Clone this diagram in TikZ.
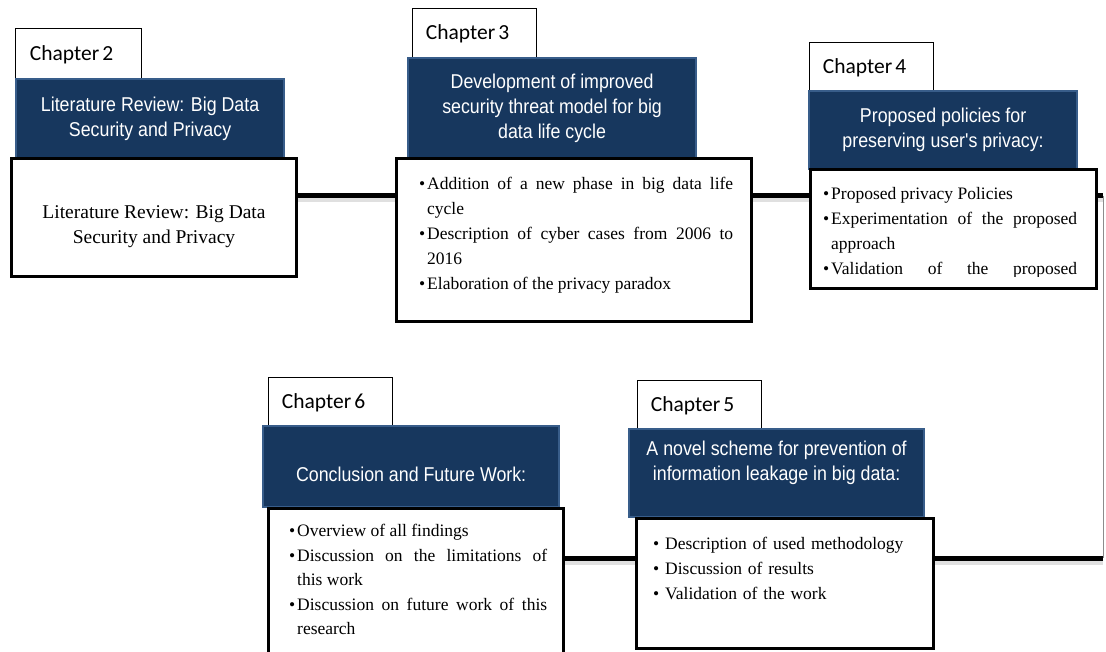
\documentclass[tikz,border=0pt]{standalone}
\usepackage{fontspec}
\setmainfont{Liberation Serif}
\newfontfamily\tabfont{Carlito}
\newfontfamily\titlefont[FakeStretch=0.89]{Liberation Sans}
\definecolor{navy}{HTML}{17375E}
\definecolor{navyedge}{HTML}{385D8A}
\newcommand\bul[2][8pt]{\hangindent=#1\hangafter=1\noindent\makebox[#1][l]{\textbullet}#2\par}

\begin{document}
\begin{tikzpicture}[x=1pt, y=-1pt,
    tab/.style={draw=black, line width=0.8pt, fill=white, anchor=north west, inner sep=0pt,
        minimum width=124pt, minimum height=50pt, text width=97pt, align=left,
        font=\tabfont\fontsize{21.5}{24}\selectfont},
    title/.style={draw=navyedge, line width=2.2pt, fill=navy, text=white, anchor=north west,
        inner sep=0pt, align=center, font=\titlefont\fontsize{20}{25}\selectfont},
    body/.style={draw=black, line width=3pt, fill=white, anchor=north west, inner sep=0pt},
    list/.style={anchor=north west, inner sep=0pt, align=justify,
        font=\fontsize{17.5}{25}\selectfont},
    link/.style={line width=5pt, preaction={draw=black!12, line width=5pt, transform canvas={yshift=-4pt}}}]
    \clip (0,0) rectangle (1106,652);

    % tabs
    \node[tab, minimum width=126pt, minimum height=52pt] (tab2) at (15,28) {Chapter\hspace{3pt}2};
    \node[tab] (tab3) at (412,8) {Chapter\hspace{3pt}3};
    \node[tab] (tab4) at (809,42) {Chapter\hspace{3pt}4};
    \node[tab] (tab6) at (268,377) {Chapter\hspace{3pt}6};
    \node[tab] (tab5) at (637,380) {Chapter\hspace{3pt}5};

    % titles
    \node[title, minimum width=268pt, minimum height=80pt] (head2) at (15,78)
        {Literature Review: Big Data\\Security and Privacy};
    \node[title, minimum width=288pt, minimum height=101pt] (head3) at (407,57)
        {Development of improved\\security threat model for big\\data life cycle};
    \node[title, minimum width=268pt, minimum height=78pt] (head4) at (808,90)
        {Proposed policies for\\preserving user's privacy:};
    \node[title, minimum width=296pt, minimum height=81pt, text height=30pt, text depth=0pt] (head6) at (262,425)
        {Conclusion and Future Work:};
    \node[title, minimum width=295pt, minimum height=88pt] (head5) at (628,428)
        {A novel scheme for prevention of\\information leakage in big data:\\\mbox{}};

    % boxes
    \node[body, minimum width=285pt, minimum height=118pt] (box2) at (10,157) {};
    \node[body, minimum width=355pt, minimum height=163pt] (box3) at (395,157) {};
    \node[body, minimum width=286pt, minimum height=119pt] (box4) at (809,168) {};
    \node[body, minimum width=295pt, minimum height=160pt] (box6) at (267,507) {};
    \node[body, minimum width=297pt, minimum height=130pt] (box5) at (635,517) {};

    \node[align=center, font=\fontsize{19.5}{25}\selectfont] (txt2) at ([yshift=-9pt]box2.center)
        {Literature Review: Big Data\\Security and Privacy};
    \node[list, text width=314pt] (txt3) at ([xshift=24pt, yshift=-20pt]box3.north west) {%
        \bul{Addition of a new phase in big data life\linebreak cycle}
        \bul{Description of cyber cases from 2006 to\linebreak 2016}
        \bul{Elaboration of the privacy paradox}};
    \begin{scope}
        \clip (box4.north west) rectangle ([yshift=13pt]box4.south east);
        \node[list, text width=254pt] (txt4) at ([xshift=14pt, yshift=-19pt]box4.north west) {%
            \bul{Proposed privacy Policies}
            \bul{Experimentation of the proposed\linebreak approach}
            \bul{Validation of the proposed\linebreak approach}};
    \end{scope}
    \node[list, text width=258pt, font=\fontsize{17.5}{24.5}\selectfont] (txt6) at ([xshift=22pt, yshift=-17pt]box6.north west) {%
        \bul{Overview of all findings}
        \bul{Discussion on the limitations of\linebreak this work}
        \bul{Discussion on future work of this\linebreak research}};
    \node[list, text width=280pt, align=left] (txt5) at ([xshift=18pt, yshift=-20pt]box5.north west) {%
        \bul[12pt]{Description of used methodology}
        \bul[12pt]{Discussion of results}
        \bul[12pt]{Validation of the work}};

    % connectors
    \coordinate (ne) at (1103,196);
    \coordinate (se) at (1103,558);
    \draw[link] (box2.east |- ne) -- (box3.west |- ne);
    \draw[link] (box3.east |- ne) -- (box4.west |- ne);
    \draw[link] (box4.east |- ne) -- (ne);
    \draw[black!45, line width=0.8pt] (ne) -- (se);
    \draw[link] (se) -- (box5.east |- se);
    \draw[link] (box5.west |- se) -- (box6.east |- se);
\end{tikzpicture}
\end{document}
